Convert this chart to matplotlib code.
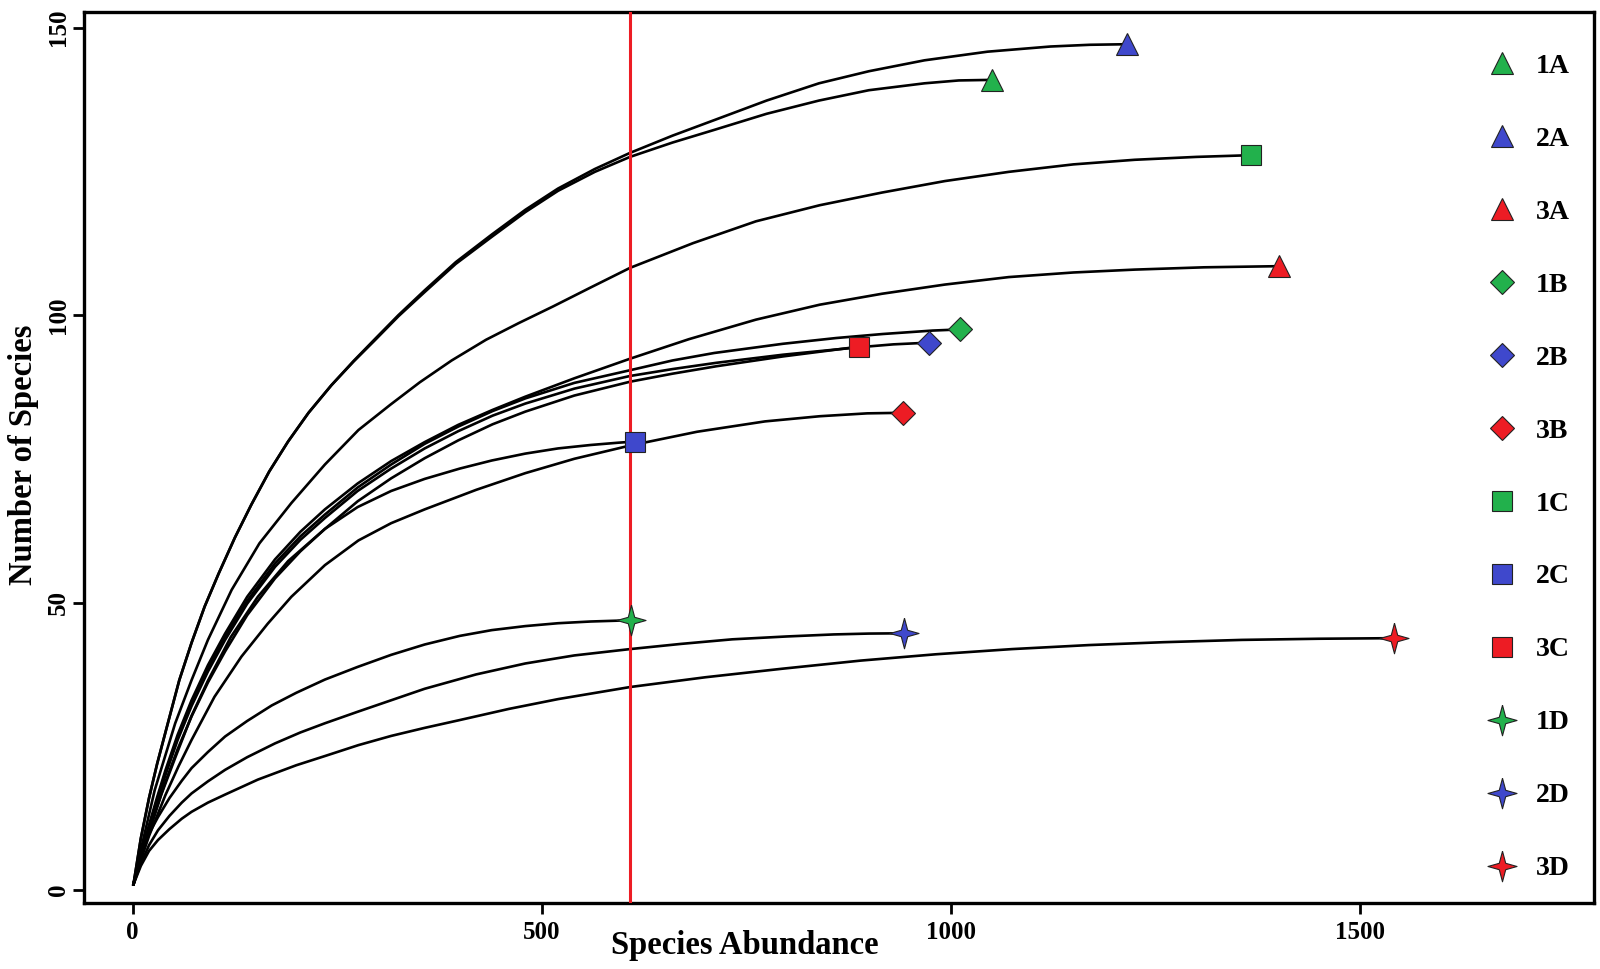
import matplotlib
matplotlib.use("Agg")
import matplotlib.pyplot as plt
from matplotlib.lines import Line2D

# cores das amostras (1 = verde, 2 = azul, 3 = vermelho)
GREEN = "#22B14C"
BLUE = "#3F48CC"
RED = "#ED1C24"

# curvas de rarefacao
x_1A = [1, 10, 20, 30, 43, 57, 72, 88, 105, 125, 145, 167, 190, 215, 243, 270, 296, 325, 357, 395,
        439, 480, 520, 565, 608, 660, 711, 775, 839, 900, 968, 1010, 1051]
y_1A = [1, 9, 16, 22, 29, 36.5, 43, 49.3, 55, 61.3, 67, 72.8, 78, 83, 87.8, 91.9, 95.6, 99.8, 104, 108.9,
        113.6, 117.9, 121.6, 124.9, 127.5, 130, 132.2, 135, 137.3, 139.1, 140.3, 140.8, 140.9]
x_2A = [1, 10, 20, 30, 43, 57, 72, 88, 105, 125, 145, 167, 190, 215, 243, 270, 296, 325, 357, 395,
        439, 480, 520, 565, 608, 660, 711, 775, 839, 900, 968, 1045, 1122, 1170, 1216]
y_2A = [1, 9, 16, 22, 29, 36.5, 43, 49.3, 55, 61.3, 67, 72.8, 78, 83, 87.8, 92, 95.8, 100, 104.3, 109.2,
        114, 118.3, 122, 125.4, 128.2, 131.2, 133.9, 137.3, 140.3, 142.4, 144.3, 145.8, 146.7, 147, 147.1]
x_3A = [1, 10, 20, 30, 40, 55, 72, 92, 113, 140, 174, 205, 235, 275, 316, 357, 398, 440, 480, 540,
        608, 680, 762, 840, 916, 993, 1071, 1150, 1225, 1310, 1402]
y_3A = [1, 6.2, 11.3, 16.2, 20.8, 27, 33, 39.1, 44.6, 51, 57.5, 62.3, 66.2, 70.7, 74.6, 77.9, 80.9, 83.5, 85.8, 89,
        92.4, 95.8, 99.2, 101.8, 103.7, 105.3, 106.6, 107.4, 107.9, 108.3, 108.5]

x_1B = [1, 10, 20, 30, 40, 55, 72, 92, 113, 140, 174, 205, 235, 275, 316, 357, 398, 440, 480, 540,
        608, 660, 711, 795, 860, 917, 978, 1012]
y_1B = [1, 6, 11, 15.8, 20.3, 26.5, 32.5, 38.5, 44, 50.3, 56.8, 61.5, 65.3, 70, 74, 77.6, 80.6, 83.3, 85.5, 88.2,
        90.4, 92.1, 93.4, 95, 96, 96.7, 97.3, 97.5]
x_2B = [1, 10, 20, 30, 40, 55, 72, 92, 113, 140, 174, 205, 235, 275, 316, 357, 398, 440, 480, 540,
        608, 660, 714, 795, 888, 930, 974]
y_2B = [1, 5.9, 10.8, 15.5, 20, 26.1, 32, 38, 43.5, 49.8, 56.2, 60.9, 64.7, 69.4, 73.3, 76.8, 79.8, 82.5, 84.6, 87.2,
        89.4, 90.6, 91.7, 93.1, 94.4, 94.9, 95.2]
x_3B = [1, 10, 20, 40, 56, 72, 100, 133, 165, 194, 235, 276, 316, 357, 420, 480, 540, 608, 690, 773,
        840, 898, 942]
y_3B = [1, 5.2, 9.4, 16.5, 21.5, 26.1, 33.6, 40.6, 46.3, 51, 56.5, 60.8, 63.8, 66.2, 69.6, 72.5, 75, 77.3, 79.7, 81.5,
        82.4, 82.9, 83]

x_1C = [1, 10, 27, 52, 72, 92, 121, 155, 194, 235, 276, 315, 351, 390, 432, 472, 514, 560, 608, 685,
        762, 840, 916, 993, 1071, 1150, 1225, 1300, 1367]
y_1C = [1, 7, 17.4, 29, 36.5, 43.5, 52.2, 60.3, 67.3, 74, 80, 84.4, 88.3, 92.1, 95.7, 98.6, 101.5, 104.8, 108.2, 112.5,
        116.3, 119.1, 121.3, 123.3, 124.9, 126.2, 127, 127.5, 127.8]
x_2C = [1, 10, 20, 35, 52, 72, 92, 120, 153, 190, 235, 275, 316, 357, 400, 439, 480, 520, 560, 594, 614]
y_2C = [1, 5.5, 10, 16.6, 23, 30.3, 36.4, 44, 51, 57.2, 62.8, 66.6, 69.4, 71.5, 73.3, 74.7, 75.9, 76.8, 77.4, 77.8, 78]
x_3C = [1, 10, 20, 30, 40, 55, 72, 92, 113, 140, 174, 205, 235, 275, 316, 357, 398, 440, 480, 540,
        608, 660, 714, 795, 850, 888]
y_3C = [1, 5.6, 10.3, 14.6, 18.8, 24.5, 30.2, 36.1, 41.5, 47.8, 54.2, 58.9, 62.8, 67.6, 71.6, 75.1, 78.2, 81, 83.2, 86,
        88.4, 89.8, 91.1, 92.8, 93.8, 94.5]

x_1D = [1, 10, 20, 31, 45, 60, 72, 92, 113, 140, 170, 200, 235, 275, 316, 357, 400, 439, 480, 520,
        560, 594, 609]
y_1D = [1, 6, 9.8, 12.7, 16, 19, 21.2, 24, 26.7, 29.4, 32.1, 34.3, 36.6, 38.8, 40.9, 42.7, 44.2, 45.2, 45.9, 46.4,
        46.7, 46.85, 46.9]
x_2D = [1, 10, 20, 31, 45, 60, 72, 92, 113, 140, 174, 205, 235, 275, 316, 357, 420, 480, 540, 608,
        670, 733, 800, 857, 900, 943]
y_2D = [1, 4.6, 7.8, 10.4, 12.9, 15.2, 16.8, 18.9, 20.9, 23.1, 25.5, 27.4, 29, 31, 33, 35, 37.5, 39.4, 40.8, 41.9,
        42.8, 43.6, 44.1, 44.45, 44.6, 44.65]
x_3D = [1, 10, 20, 31, 45, 60, 72, 92, 113, 153, 200, 235, 276, 316, 357, 398, 460, 520, 608, 700,
        795, 890, 982, 1075, 1169, 1260, 1356, 1450, 1542]
y_3D = [1, 4.2, 6.8, 8.7, 10.6, 12.4, 13.6, 15.2, 16.6, 19.2, 21.7, 23.3, 25.2, 26.8, 28.2, 29.5, 31.5, 33.2, 35.3, 37,
        38.5, 39.9, 41, 41.9, 42.6, 43.1, 43.5, 43.7, 43.8]

sample_names = ["1A", "2A", "3A", "1B", "2B", "3B", "1C", "2C", "3C", "1D", "2D", "3D"]
curves_x = [x_1A, x_2A, x_3A, x_1B, x_2B, x_3B, x_1C, x_2C, x_3C, x_1D, x_2D, x_3D]
curves_y = [y_1A, y_2A, y_3A, y_1B, y_2B, y_3B, y_1C, y_2C, y_3C, y_1D, y_2D, y_3D]

cutoff = 608  # linha vermelha

x_ticks = [0, 500, 1000, 1500]
y_ticks = [0, 50, 100, 150]

# estrela de 4 pontas
star4 = [(0, 1), (0.21, 0.21), (0.95, 0), (0.21, -0.21),
         (0, -1), (-0.21, -0.21), (-0.95, 0), (-0.21, 0.21), (0, 1)]

colors = [GREEN, BLUE, RED] * 4
markers = ["^"] * 3 + ["D"] * 3 + ["s"] * 3 + [star4] * 3
sizes = [16] * 3 + [12.5] * 3 + [14] * 3 + [22] * 3

plt.rcParams["font.family"] = ["Liberation Serif", "DejaVu Serif"]
plt.rcParams["font.weight"] = "bold"

fig = plt.figure(figsize=(16, 9.69), dpi=100)
ax = fig.add_axes([0.0525, 0.0681, 0.9435, 0.9195])

for xs, ys, c, m, s in zip(curves_x, curves_y, colors, markers, sizes):
    ax.plot(xs, ys, color="black", lw=1.9, zorder=2, solid_joinstyle="round")
    ax.plot(xs[-1], ys[-1], ls="none", marker=m, ms=s, mfc=c, mec="#222222",
            mew=0.8, zorder=4)

ax.axvline(cutoff, color=RED, lw=2.2, zorder=3)

ax.set_xlim(-59.5, 1786)
ax.set_ylim(-2.26, 152.7)
ax.set_xticks(x_ticks)
ax.set_yticks(y_ticks)
ax.tick_params(axis="both", direction="out", length=8, width=2, labelsize=18)
ax.tick_params(axis="x", pad=5)
ax.tick_params(axis="y", pad=2)
for lab in ax.get_yticklabels():
    lab.set_rotation(90)
    lab.set_va("center")
for sp in ax.spines.values():
    sp.set_linewidth(2.4)

ax.set_xlabel("Species Abundance", fontsize=23.5, fontweight="bold")
ax.xaxis.set_label_coords(0.4377, -0.03)
ax.set_ylabel("Number of Species", fontsize=23.5, fontweight="bold")
ax.yaxis.set_label_coords(-0.03, 0.503)

handles = [Line2D([], [], ls="none", marker=m, ms=s, mfc=c, mec="#222222", mew=0.8)
           for c, m, s in zip(colors, markers, sizes)]
ax.legend(handles, sample_names, loc="upper left", bbox_to_anchor=(0.9225, 0.966),
          frameon=False, fontsize=20, labelspacing=1.71, handlelength=1.0,
          handletextpad=0.73, borderaxespad=0)

fig.savefig("out.png", dpi=100)
